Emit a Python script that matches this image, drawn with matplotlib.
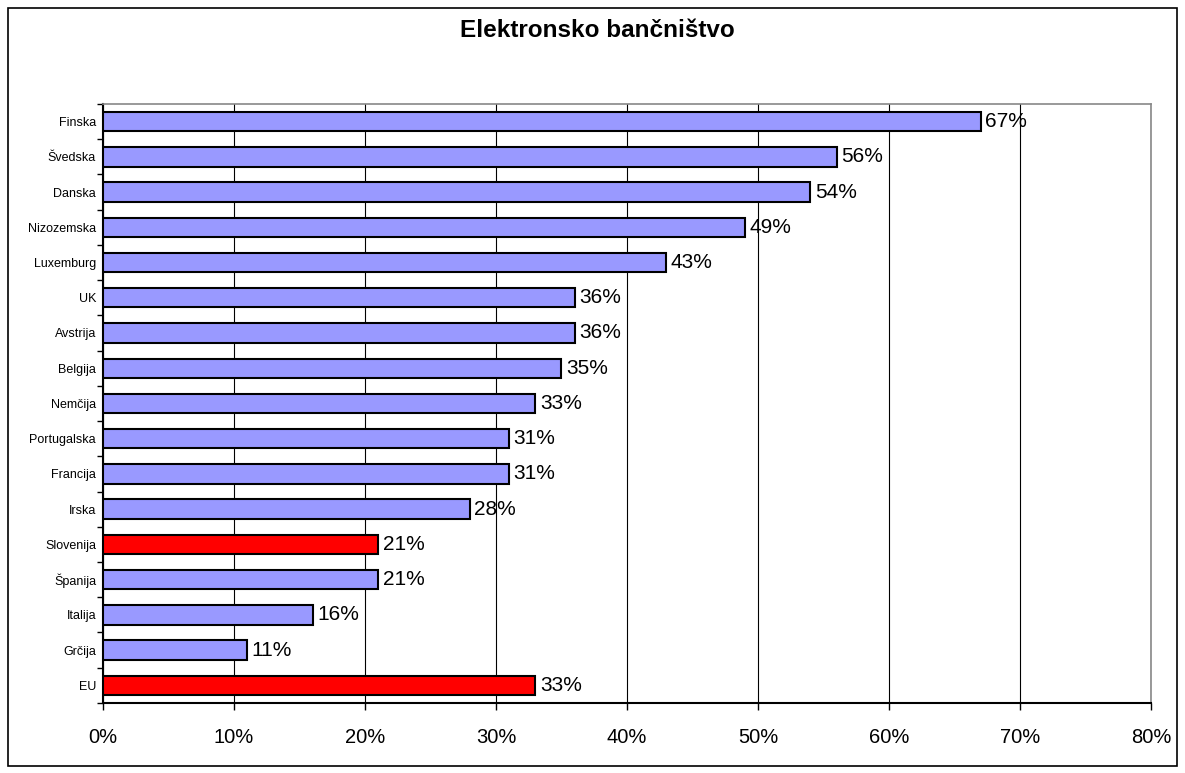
import matplotlib
matplotlib.use("Agg")
import matplotlib.pyplot as plt
from matplotlib.patches import Rectangle

plt.rcParams['font.family'] = ['Liberation Sans', 'DejaVu Sans']

# countries from top to bottom, as in the original chart
countries = ["Finska", "Švedska", "Danska", "Nizozemska", "Luxemburg", "UK",
             "Avstrija", "Belgija", "Nemčija", "Portugalska", "Francija",
             "Irska", "Slovenija", "Španija", "Italija", "Grčija", "EU"]
values = [67, 56, 54, 49, 43, 36, 36, 35, 33, 31, 31, 28, 21, 21, 16, 11, 33]
highlight = ["Slovenija", "EU"]

xticks = [0, 10, 20, 30, 40, 50, 60, 70, 80]

fig = plt.figure(figsize=(11.85, 7.73), dpi=100)
ax = fig.add_axes([0.0869, 0.0906, 0.9713 - 0.0869, 0.8655 - 0.0906])

n = len(countries)
ypos = list(range(n))[::-1]
colors = ["#FF0000" if c in highlight else "#9999FF" for c in countries]

ax.barh(ypos, values, height=0.55, color=colors, edgecolor="black",
        linewidth=1.5, zorder=3)

for y, v in zip(ypos, values):
    ax.text(v + 0.35, y, "%d%%" % v, va="center", ha="left", fontsize=15,
            zorder=4)

ax.set_xlim(0, 80)
ax.set_ylim(-0.5, n - 0.5)
ax.set_xticks(xticks)
ax.set_xticklabels(["%d%%" % t for t in xticks], fontsize=14.5)
ax.tick_params(axis="x", direction="out", length=5, width=1, pad=13)

ax.set_yticks(ypos)
ax.set_yticklabels(countries, fontsize=9)
ax.set_yticks([i - 0.5 for i in range(n + 1)], minor=True)
ax.tick_params(axis="y", which="major", length=0, pad=5)
ax.tick_params(axis="y", which="minor", direction="out", length=4, width=1)

ax.grid(axis="x", color="black", linewidth=0.8, zorder=0)
ax.spines["left"].set_linewidth(1.5)
ax.spines["bottom"].set_linewidth(1.5)
ax.spines["top"].set_color("#888888")
ax.spines["right"].set_color("#888888")
ax.spines["top"].set_linewidth(1.2)
ax.spines["right"].set_linewidth(1.2)

fig.text(0.504, 0.961, "Elektronsko bančništvo", ha="center", va="center",
         fontsize=17.5, fontweight="bold")

# outer chart border
fig.patches.append(Rectangle((8 / 1185, 7 / 773), 1169 / 1185, 758 / 773,
                             transform=fig.transFigure, fill=False,
                             edgecolor="black", linewidth=1.2))

fig.savefig("out.png", dpi=100)
